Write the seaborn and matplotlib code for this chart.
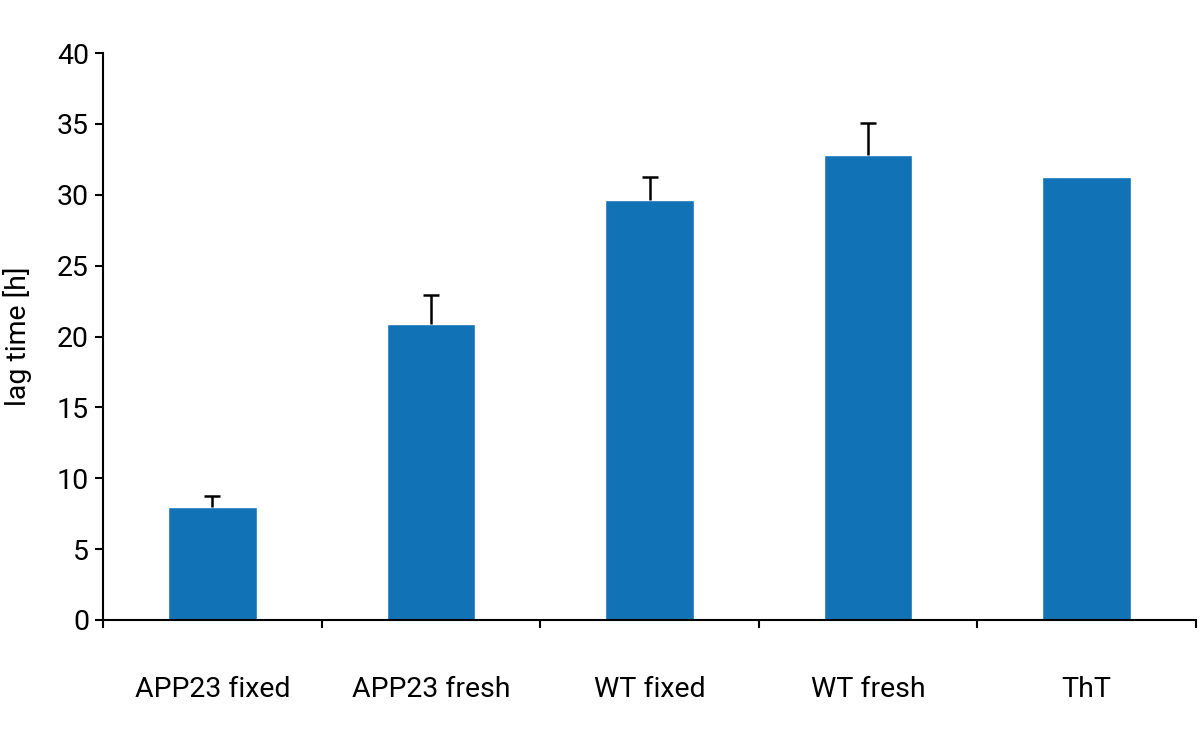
import numpy as np
import pandas as pd
import matplotlib
matplotlib.use('Agg')
import matplotlib.pyplot as plt
import seaborn as sns

# values
samples = ['APP23 fixed', 'APP23 fresh', 'WT fixed', 'WT fresh', 'ThT']
lag_time = [8.0, 20.9, 29.65, 32.8, 31.25]
lag_err = [0.75, 2.05, 1.6, 2.25, 0.0]

df = pd.DataFrame({'sample': samples, 'lag_time': lag_time, 'err': lag_err})

sns.set_style('white')
plt.rcParams['font.family'] = ['Roboto', 'DejaVu Sans']
plt.rcParams['text.color'] = 'black'
plt.rcParams['axes.labelcolor'] = 'black'
plt.rcParams['xtick.color'] = 'black'
plt.rcParams['ytick.color'] = 'black'

fig = plt.figure(figsize=(12, 7.37), dpi=100)
ax = fig.add_axes([0.0858, 0.1588, 0.9109, 0.7692])

sns.barplot(data=df, x='sample', y='lag_time', color='#1172b6', saturation=1,
            width=0.405, ax=ax, errorbar=None)

# one-sided error bars (upper only, cap on top)
x = np.arange(len(df))
has_err = (df['err'] > 0).to_numpy()
tops = df['lag_time'][has_err] + df['err'][has_err]
ax.vlines(x[has_err], df['lag_time'][has_err], tops, color='black', lw=1.8)
ax.plot(x[has_err], tops, ls='none', marker='_', ms=12, mew=1.8, color='black')

ax.set_xlim(-0.5, len(df) - 0.5)
ax.set_ylim(0, 40)
ax.set_yticks(range(0, 41, 5))
ax.tick_params(axis='y', labelsize=20.5, length=6, width=1.5, direction='out', left=True, pad=4)

# labels centred, tick marks at category boundaries
ax.set_xticks(x)
ax.set_xticklabels(samples)
ax.set_xticks(np.arange(-0.5, len(df)), minor=True)
ax.tick_params(axis='x', which='major', length=0, labelsize=20.5, pad=40)
ax.tick_params(axis='x', which='minor', length=6, width=1.5, direction='out', bottom=True)

ax.set_xlabel('')
ax.set_ylabel('lag time [h]', fontsize=20.5, labelpad=18)

sns.despine(ax=ax)
for side in ['left', 'bottom']:
    ax.spines[side].set_linewidth(1.5)
    ax.spines[side].set_color('black')

fig.savefig('out.png', dpi=100)
